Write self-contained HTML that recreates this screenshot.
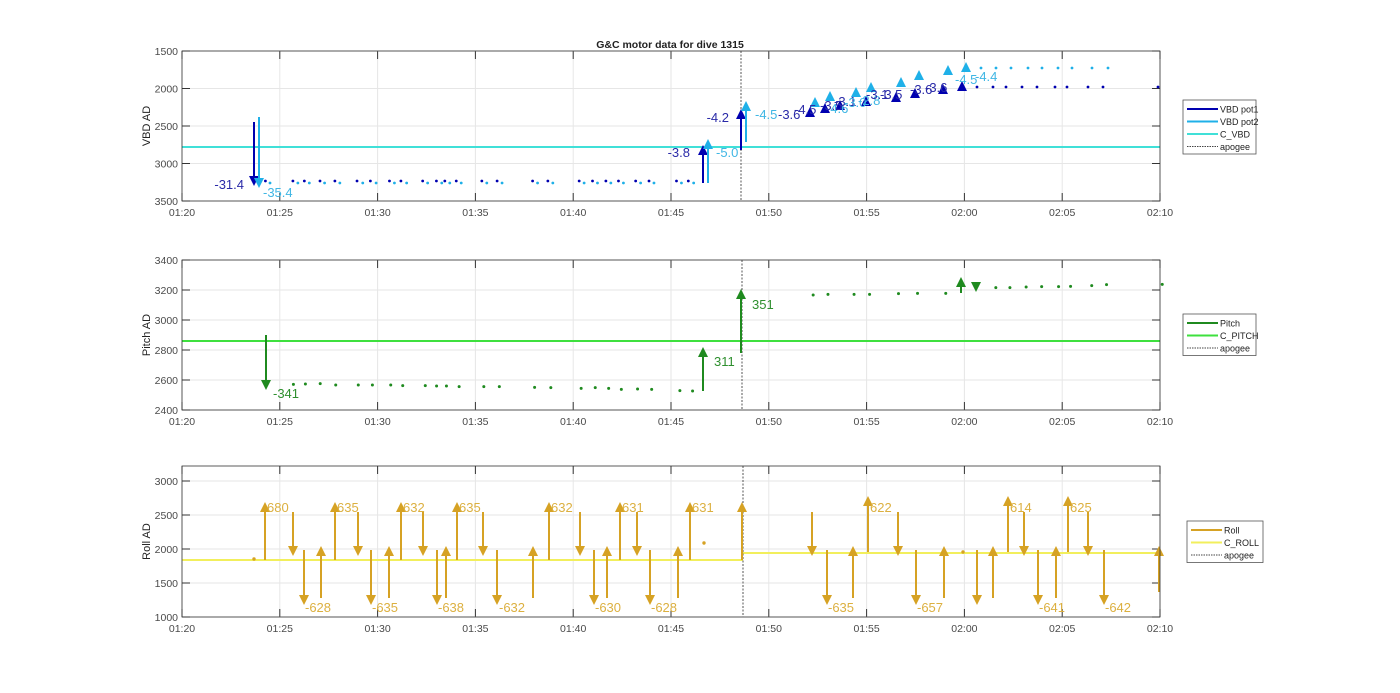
<!DOCTYPE html>
<html><head><meta charset="utf-8"><style>
body{margin:0;background:#fff;}
svg{display:block;font-family:"Liberation Sans",sans-serif;}
</style></head><body>
<svg id="s" width="1400" height="693" xmlns="http://www.w3.org/2000/svg"></svg>
<script>
const S=document.getElementById('s');let h='';
const X0=182,X1=1160,px=t=>X0+t*(X1-X0)/50;
const xl=['01:20','01:25','01:30','01:35','01:40','01:45','01:50','01:55','02:00','02:05','02:10'];
function axes(top,bot,yt,ylab){
 h+=`<rect x="${X0}" y="${top}" width="${X1-X0}" height="${bot-top}" fill="#fff" stroke="none"/>`;
 for(let i=0;i<=10;i++){const x=px(i*5);h+=`<line x1="${x}" y1="${top}" x2="${x}" y2="${bot}" stroke="#e6e6e6"/>`;
  h+=`<line x1="${x}" y1="${top}" x2="${x}" y2="${top+8}" stroke="#333"/><line x1="${x}" y1="${bot}" x2="${x}" y2="${bot-8}" stroke="#333"/>`;
  h+=`<text x="${x}" y="${bot+15}" font-size="10.5" fill="#4a4a4a" text-anchor="middle">${xl[i]}</text>`;}
 yt.forEach(([v,y])=>{h+=`<line x1="${X0}" y1="${y}" x2="${X1}" y2="${y}" stroke="#e6e6e6"/><line x1="${X0}" y1="${y}" x2="${X0+8}" y2="${y}" stroke="#333"/><line x1="${X1}" y1="${y}" x2="${X1-8}" y2="${y}" stroke="#333"/><text x="${X0-4}" y="${y+4}" font-size="10.5" fill="#4a4a4a" text-anchor="end">${v}</text>`;});
 h+=`<text transform="translate(150,${(top+bot)/2}) rotate(-90)" font-size="11" fill="#222" text-anchor="middle">${ylab}</text>`;
}
function frame(top,bot){h+=`<rect x="${X0}" y="${top}" width="${X1-X0}" height="${bot-top}" fill="none" stroke="#333" stroke-width="0.8"/>`;}
function arrow(x,y1,y2,c,w){w=w||2;const d=y2>y1?1:-1;h+=`<line x1="${x}" y1="${y1}" x2="${x}" y2="${y2-d*8}" stroke="${c}" stroke-width="${w}"/><polygon points="${x-5},${y2-d*10} ${x+5},${y2-d*10} ${x},${y2}" fill="${c}"/>`;}
function tri(x,y,c){h+=`<polygon points="${x-5},${y+5} ${x+5},${y+5} ${x},${y-5}" fill="${c}"/>`;}
function dot(x,y,c,r){h+=`<circle cx="${x}" cy="${y}" r="${r||1.7}" fill="${c}"/>`;}
function txt(x,y,s,c,a){h+=`<text x="${x}" y="${y}" font-size="13" fill="${c}" text-anchor="${a||'start'}">${s}</text>`;}
function legend(x,y,w,items){const hh=items.length*12.5+4;h+=`<rect x="${x}" y="${y}" width="${w}" height="${hh}" fill="#fff" stroke="#555" stroke-width="0.8"/>`;
 items.forEach(([l,c,dash],i)=>{const yy=y+9+i*12.5;h+=`<line x1="${x+4}" y1="${yy}" x2="${x+35}" y2="${yy}" stroke="${c}" stroke-width="${dash?1:2}" ${dash?'stroke-dasharray="1.5,1"':''}/><text x="${x+37}" y="${yy+3.5}" font-size="9" fill="#222">${l}</text>`;});}
const D='#0000b0',L='#1fb0e8',CV='#40e0d8',DT='#2a2aa8',LT='#3fb6e4';
// ---------- TOP
axes(51,201,[[1500,51],[2000,88.5],[2500,126],[3000,163.5],[3500,201]],'VBD AD');
h+=`<text x="670" y="48" font-size="10.5" font-weight="bold" fill="#222" text-anchor="middle">G&amp;C motor data for dive 1315</text>`;
h+=`<line x1="${X0}" y1="147" x2="${X1}" y2="147" stroke="${CV}" stroke-width="2"/>`;
h+=`<line x1="741" y1="51" x2="741" y2="201" stroke="#555" stroke-dasharray="2,1.5"/>`;
[[250,262],[322,335],[352,365],[393,405],[432,445],[490,505],[525,540],[575,588],[605,620],[662,675],[698,712],[720,733],[750,763],[817,830],[857,870],[950,963],[990,1003],[1072,1085],[1107,1120],[1142,1155],[1175,1188],[1220,1233],[1255,1268],[1327,1340],[1358,1372]].forEach(([a,b])=>{dot(170+a/2.62,181,D,1.4);dot(170+b/2.62,183,L,1.4);});
[977,993,1006,1022,1037,1055,1067,1088,1103,1158].forEach(x=>dot(x,87,D,1.4));
[981,996,1011,1028,1042,1058,1072,1092,1108].forEach(x=>dot(x,68,L,1.4));
arrow(254,122,186,D);arrow(259,117,188,L);
txt(244,189,'-31.4',DT,'end');txt(263,197,'-35.4',LT);
arrow(703,183,145,D);arrow(708,183,139,L);txt(690,157,'-3.8',DT,'end');txt(716,157,'-5.0',LT);
arrow(741,150,109,D);arrow(746,142,101,L);txt(729,122,'-4.2',DT,'end');txt(755,119,'-4.5',LT);txt(778,119,'-3.6',DT);
[[810,112],[825,108],[840,105],[866,101],[896,97],[915,93],[943,89],[962,86]].forEach(p=>tri(p[0],p[1],D));
[[815,102],[830,96],[856,92],[871,87],[901,82],[919,75],[948,70],[966,67]].forEach(p=>tri(p[0],p[1],L));
txt(794,114,'-4.5',DT);txt(826,113,'-4.6',LT);txt(820,110,'-3.5',DT);txt(834,106,'-3.1',DT);txt(844,107,'-3.0',LT);txt(858,105,'-2.8',LT);txt(866,99,'-3.1',DT);
txt(880,99,'-3.5',DT);txt(910,94,'-3.6',DT);txt(925,92,'-3.6',DT);txt(955,84,'-4.5',LT);txt(975,81,'-4.4',LT);
frame(51,201);
legend(1183,100,73,[['VBD pot1',D],['VBD pot2',L],['C_VBD',CV],['apogee','#444',1]]);
// ---------- MIDDLE
const G='#1f8a1f',GT='#2e8f2e';
axes(260,410,[[3400,260],[3200,290],[3000,320],[2800,350],[2600,380],[2400,410]],'Pitch AD');
h+=`<line x1="${X0}" y1="341" x2="${X1}" y2="341" stroke="#3ee03e" stroke-width="2"/>`;
h+=`<line x1="742" y1="260" x2="742" y2="410" stroke="#555" stroke-dasharray="2,1.5"/>`;
[[175,403],[192,402],[213,401],[235,405],[267,405],[287,405],[313,405],[330,407],[362,407],[378,408],[392,408],[410,410],[445,410],[467,410],[517,412],[540,413],[583,415],[603,413],[622,415],[640,418],[663,417],[683,418],[723,422],[741,423],[912,135],[933,133],[970,133],[992,133],[1033,131],[1060,130],[1100,130],[1171,113],[1191,113],[1214,111],[1236,110],[1260,110],[1277,109],[1307,107],[1328,104],[1407,103]].forEach(([a,b])=>dot(170+a/1.418,250+b/3,G,1.5));
arrow(266,335,390,G);txt(273,398,'-341',GT);
arrow(703,391,347,G);txt(714,366,'311',GT);
arrow(741,353,289,G);txt(752,309,'351',GT);
arrow(961,293,277,G);arrow(976,283,292,G);
frame(260,410);
legend(1183,314,73,[['Pitch',G],['C_PITCH','#3ee03e'],['apogee','#444',1]]);
// ---------- BOTTOM
const R='#d6a224',CR='#f2ef5c',RT='#dcb040';
axes(466,617,[[3000,481],[2500,515],[2000,549],[1500,583],[1000,617]],'Roll AD');
h+=`<line x1="${X0}" y1="560" x2="743" y2="560" stroke="${CR}" stroke-width="2"/><line x1="743" y1="553" x2="${X1}" y2="553" stroke="${CR}" stroke-width="2"/>`;
h+=`<line x1="743" y1="466" x2="743" y2="617" stroke="#555" stroke-dasharray="2,1.5"/>`;
dot(254,559,R);dot(704,543,R);dot(963,552,R);
[265,335,401,457,549,620,690,742].forEach(x=>arrow(x,560,502,R));
[293,358,423,483,580,637,812,898,1024,1088].forEach(x=>arrow(x,512,556,R));
[304,371,437,497,594,650,827,916,977,1038,1104].forEach(x=>arrow(x,550,605,R));
[321,389,446,533,607,678,853,944,993,1056].forEach(x=>arrow(x,598,546,R));
[868,1008,1068].forEach(x=>arrow(x,552,496,R));
arrow(1159,592,546,R);
[[267,'680'],[337,'635'],[403,'632'],[459,'635'],[551,'632'],[622,'631'],[692,'631'],[870,'622'],[1010,'614'],[1070,'625']].forEach(([x,s])=>txt(x,512,s,RT));
[[305,'-628'],[372,'-635'],[438,'-638'],[499,'-632'],[595,'-630'],[651,'-628'],[828,'-635'],[917,'-657'],[1039,'-641'],[1105,'-642']].forEach(([x,s])=>txt(x,612,s,RT));
frame(466,617);
legend(1187,521,76,[['Roll',R],['C_ROLL',CR],['apogee','#444',1]]);
S.innerHTML=h;
</script>
</body></html>
